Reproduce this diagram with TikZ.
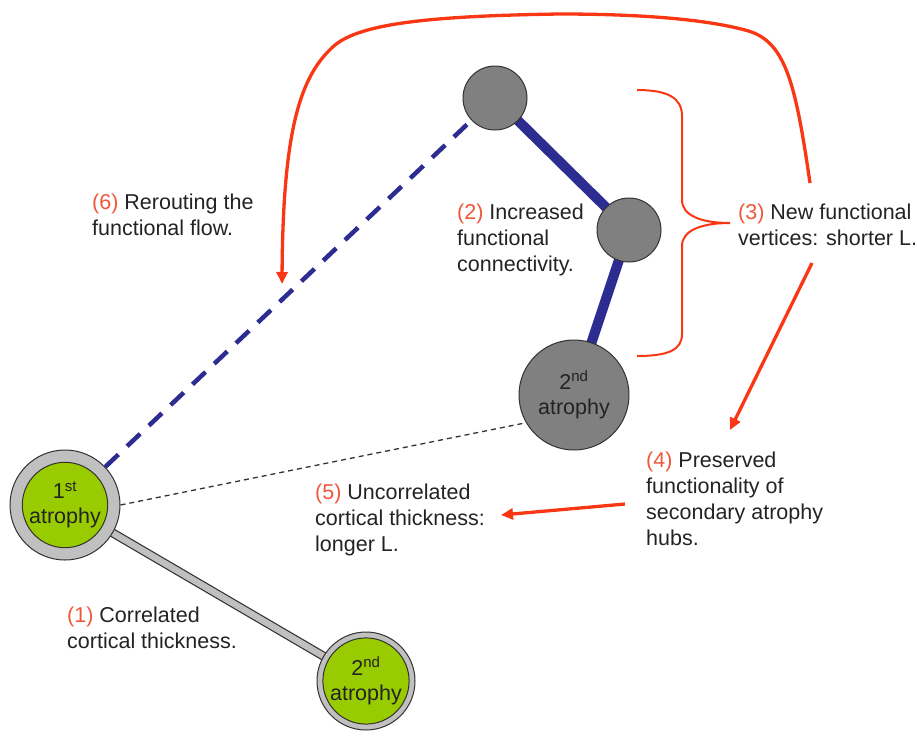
\documentclass[tikz,border=0pt]{standalone}
\usepackage{fontspec}
\setmainfont{Liberation Sans}
\usetikzlibrary{arrows.meta}
\definecolor{redc}{RGB}{250,55,20}
\definecolor{labelred}{RGB}{238,88,58}
\definecolor{bluec}{RGB}{45,45,145}
\definecolor{nodegray}{RGB}{128,128,128}
\definecolor{ringgray}{RGB}{192,192,192}
\definecolor{greenc}{RGB}{153,204,0}
\definecolor{textc}{RGB}{35,35,35}
\definecolor{edgec}{RGB}{50,50,50}
\pgfdeclarelayer{bg}
\pgfsetlayers{bg,main}
\begin{document}
\begin{tikzpicture}[x=1pt,y=-1pt,
  txt/.style={font=\fontsize{21.5}{26}\selectfont, inner sep=0pt, align=left, anchor=north west, text=textc},
  gnode/.style={circle, draw=edgec, line width=1pt, fill=nodegray, inner sep=0pt, font=\fontsize{21.5}{25}\selectfont, align=center, text=textc},
  ringnode/.style={circle, draw=edgec, line width=1pt, fill=ringgray, inner sep=0pt},
  greennode/.style={circle, draw=edgec, line width=1pt, fill=greenc, inner sep=0pt, font=\fontsize{21.5}{25}\selectfont, align=center, text=textc},
  bluethick/.style={draw=bluec, line width=10pt},
  bluedash/.style={draw=bluec, line width=4.5pt, dash pattern=on 18pt off 12pt},
  thindash/.style={draw=edgec, line width=1.3pt, dash pattern=on 5pt off 4pt},
  graybar/.style={draw=edgec, line width=1.2pt, double=ringgray, double distance=6.5pt},
  redarrow/.style={draw=redc, line width=3.3pt, -{Triangle[length=12pt,width=11pt]}},
  bracec/.style={draw=redc, line width=2pt},
  lab/.style={text=labelred}
]
\useasboundingbox (0,0) rectangle (917,737);

% nodes
\node[gnode, minimum size=64pt] (t) at (495,98) {};
\node[gnode, minimum size=64pt] (m) at (629,230) {};
\node[gnode, minimum size=110pt] (sa) at (574,395) {2\textsuperscript{nd}\\atrophy};
\node[ringnode, minimum size=110pt] (a1out) at (65,505) {};
\node[greennode, minimum size=78pt] (a1) at (65,505) {1\textsuperscript{st}\\atrophy};
\node[ringnode, minimum size=98pt] (b2out) at (366,681) {};
\node[greennode, minimum size=80pt] (b2) at (366,681) {2\textsuperscript{nd}\\atrophy};

% edges
\begin{pgfonlayer}{bg}
\draw[bluethick] (t.center) -- (m.center);
\draw[bluethick] (m.center) -- (sa.center);
\draw[graybar] (a1out.center) -- (b2out.center);
\end{pgfonlayer}
\draw[bluedash] (a1out) -- (t);
\draw[thindash] (a1out.east) -- (sa.210);

% texts
\node[txt] (l6) at (92,194) {{\color{labelred}(6)} Rerouting the\\functional flow.};
\node[txt] (l2) at (457,204) {{\color{labelred}(2)} Increased\\functional\\connectivity.};
\node[txt] (l3) at (738,204) {{\color{labelred}(3)} New functional\\vertices: shorter L.};
\node[txt] (l4) at (646,452) {{\color{labelred}(4)} Preserved\\functionality of\\secondary atrophy\\hubs.};
\node[txt] (l5) at (315,484) {{\color{labelred}(5)} Uncorrelated\\cortical thickness:\\longer L.};
\node[txt] (l1) at (67,607) {{\color{labelred}(1)} Correlated\\cortical thickness.};

% brace
\coordinate (brtop) at (637,90);
\coordinate (brtip) at (730,223);
\coordinate (brbot) at (637,356);
\draw[bracec] (brtop) .. controls (668,90) and (682,98) .. (682,116) -- (682,200)
  .. controls (682,215) and (700,223) .. (brtip)
  .. controls (700,223) and (682,231) .. (682,246) -- (682,334)
  .. controls (682,350) and (668,356) .. (brbot);

% red arrows
\coordinate (r6s) at (810,183);
\coordinate (r6e) at (282,284);
\draw[redarrow] (r6s) .. controls (795,80) and (785,40) .. (745,30)
  .. controls (700,18) and (630,14) .. (560,14)
  .. controls (420,16) and (360,25) .. (335,45)
  .. controls (300,75) and (283,130) .. (r6e);
\coordinate (r4s) at (812,263);
\coordinate (r4e) at (730,430);
\draw[redarrow] (r4s) -- (r4e);
\coordinate (r5s) at (625,504);
\coordinate (r5e) at (501,515);
\draw[redarrow] (r5s) -- (r5e);
\end{tikzpicture}
\end{document}
